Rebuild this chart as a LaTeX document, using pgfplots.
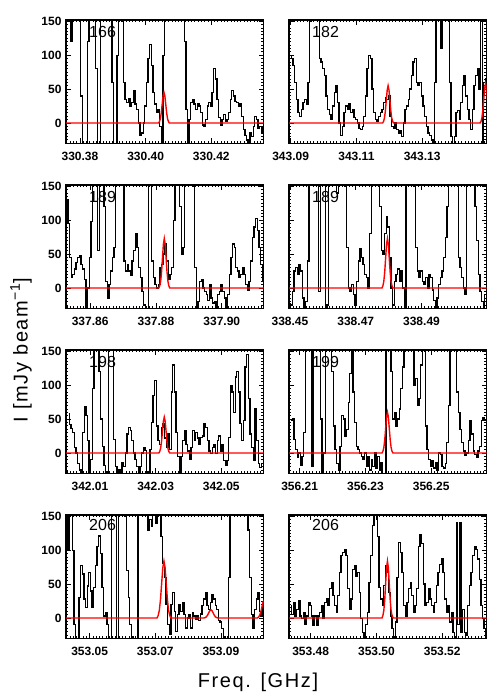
\documentclass[border=0pt]{standalone}
\usepackage{fontspec}
\setmainfont{Liberation Sans}
\usepackage{pgfplots}
\pgfplotsset{compat=1.18}

% x values are frequency minus the panel's whole GHz (kept small for TeX precision);
% the tick labels carry the full frequency.
\pgfplotsset{
  spec/.style={
    scale only axis, width=197.6pt, height=123.3pt, anchor=north west,
    ymin=-30, ymax=152, ytick={0,50,100,150}, minor ytick={-30,-25,...,150},
    scaled x ticks=false,
    tick align=inside, major tick length=5pt, minor tick length=2.2pt,
    axis line style={line width=1.2pt},
    every tick/.style={black, line width=0.8pt},
    tick label style={font=\fontsize{12}{12}\selectfont\bfseries},
    xticklabel style={yshift=-5pt},
    yticklabel style={xshift=-1pt},
    /pgf/number format/assume math mode=true,
  },
  rcol/.style={yticklabel=\empty},
  blk/.style={black, line width=1.3pt, const plot mark mid, no marks},
  fit/.style={red, line width=1.4pt, no marks},
}
\tikzset{lab/.style={font=\fontsize{16}{16}\selectfont}}

\begin{document}
\begin{tikzpicture}[x=1pt,y=1pt]
\path[use as bounding box] (0,0) rectangle (500,700);

% ---- 166
\begin{axis}[spec, at={(66pt,680pt)}, xmin=0.37574, xmax=0.43593,
  xtick={0.38,0.40,0.42}, xticklabels={330.38,330.40,330.42}, minor xtick={0.376,0.377,...,0.436}]
\addplot[blk] coordinates {
(0.3760,250)(0.3765,250)(0.3770,200)(0.3775,120)(0.3780,250)(0.3785,250)(0.3790,250)(0.3795,250)(0.3800,150)(0.3805,40)
(0.3810,-80)(0.3815,-80)(0.3820,-60)(0.3825,120)(0.3830,250)(0.3835,250)(0.3840,250)(0.3845,250)(0.3850,80)(0.3855,-80)
(0.3860,-40)(0.3865,250)(0.3870,250)(0.3875,250)(0.3880,250)(0.3885,250)(0.3890,250)(0.3895,250)(0.3900,60)(0.3905,-80)
(0.3910,-60)(0.3915,100)(0.3920,250)(0.3925,250)(0.3930,150)(0.3935,60)(0.3940,35)(0.3945,30)(0.3950,36)(0.3955,25)
(0.3960,30)(0.3965,48)(0.3970,28)(0.3975,20)(0.3980,0)(0.3985,-18)(0.3990,-15)(0.3995,0)(0.4000,25)(0.4005,60)
(0.4010,95)(0.4015,116)(0.4020,85)(0.4025,45)(0.4030,28)(0.4035,15)(0.4040,20)(0.4045,-5)(0.4050,-30)(0.4055,100)
(0.4060,250)(0.4065,250)(0.4070,250)(0.4075,250)(0.4080,250)(0.4085,250)(0.4090,250)(0.4095,250)(0.4100,250)(0.4105,250)
(0.4110,250)(0.4115,250)(0.4120,120)(0.4125,20)(0.4130,-28)(0.4135,5)(0.4140,30)(0.4145,35)(0.4150,28)(0.4155,20)
(0.4160,28)(0.4165,25)(0.4170,15)(0.4175,-3)(0.4180,-5)(0.4185,5)(0.4190,25)(0.4195,30)(0.4200,25)(0.4205,45)
(0.4210,80)(0.4215,65)(0.4220,35)(0.4225,8)(0.4230,-3)(0.4235,5)(0.4240,12)(0.4245,3)(0.4250,5)(0.4255,15)
(0.4260,35)(0.4265,48)(0.4270,40)(0.4275,32)(0.4280,30)(0.4285,25)(0.4290,28)(0.4295,10)(0.4300,-10)(0.4305,-18)
(0.4310,-25)(0.4315,-28)(0.4320,-15)(0.4325,-20)(0.4330,-5)(0.4335,10)(0.4340,5)(0.4345,-8)(0.4350,-5)(0.4355,-15)
(0.4360,-5)(0.4365,-12)};
\addplot[fit] coordinates {(0.3750,0)(0.40393,0)(0.404205,2.0)(0.40448,6.1)(0.404755,14.6)(0.40503,27.3)(0.405305,39.7)(0.40558,45)
(0.405855,39.7)(0.40613,27.3)(0.406405,14.6)(0.40668,6.1)(0.406955,2.0)(0.40723,0)(0.4370,0)};
\node[lab] at (rel axis cs:0.185,0.905) {166};
\end{axis}

% ---- 182
\begin{axis}[spec, rcol, at={(289pt,680pt)}, xmin=0.0895, xmax=0.1496,
  xtick={0.09,0.11,0.13}, xticklabels={343.09,343.11,343.13}, minor xtick={0.089,0.090,...,0.150}]
\addplot[blk] coordinates {
(0.0900,100)(0.0905,95)(0.0910,85)(0.0915,60)(0.0920,35)(0.0925,15)(0.0930,10)(0.0935,20)(0.0940,30)(0.0945,35)
(0.0950,28)(0.0955,60)(0.0960,150)(0.0965,250)(0.0970,250)(0.0975,250)(0.0980,250)(0.0985,180)(0.0990,95)(0.0995,90)
(0.1000,80)(0.1005,70)(0.1010,40)(0.1015,20)(0.1020,12)(0.1025,5)(0.1030,25)(0.1035,45)(0.1040,55)(0.1045,30)
(0.1050,0)(0.1055,-18)(0.1060,-5)(0.1065,15)(0.1070,25)(0.1075,20)(0.1080,28)(0.1085,15)(0.1090,20)(0.1095,8)
(0.1100,5)(0.1105,0)(0.1110,-8)(0.1115,-10)(0.1120,-5)(0.1125,10)(0.1130,40)(0.1135,80)(0.1140,100)(0.1145,95)
(0.1150,50)(0.1155,15)(0.1160,5)(0.1165,2)(0.1170,10)(0.1175,15)(0.1180,20)(0.1185,30)(0.1190,38)(0.1195,35)
(0.1200,40)(0.1205,10)(0.1210,-5)(0.1215,-8)(0.1220,0)(0.1225,-10)(0.1230,-15)(0.1235,-12)(0.1240,-20)(0.1245,0)
(0.1250,20)(0.1255,25)(0.1260,35)(0.1265,50)(0.1270,70)(0.1275,90)(0.1280,95)(0.1285,60)(0.1290,55)(0.1295,60)
(0.1300,40)(0.1305,25)(0.1310,10)(0.1315,-5)(0.1320,-15)(0.1325,-18)(0.1330,-25)(0.1335,-30)(0.1340,60)(0.1345,250)
(0.1350,250)(0.1355,250)(0.1360,110)(0.1365,250)(0.1370,250)(0.1375,250)(0.1380,200)(0.1385,60)(0.1390,-20)(0.1395,-80)
(0.1400,-20)(0.1405,15)(0.1410,18)(0.1415,5)(0.1420,30)(0.1425,55)(0.1430,70)(0.1435,40)(0.1440,20)(0.1445,5)
(0.1450,-10)(0.1455,20)(0.1460,55)(0.1465,70)(0.1470,80)(0.1475,50)(0.1480,250)(0.1485,-80)(0.1490,60)(0.1495,65)
(0.1500,40)};
\addplot[fit] coordinates {(0.0890,0)(0.11799,0)(0.118265,2.4)(0.11854,7.4)(0.118815,17.9)(0.11909,33.4)(0.119365,48.5)(0.11964,55)
(0.119915,48.5)(0.12019,33.4)(0.120465,17.9)(0.12074,7.4)(0.121015,2.4)(0.12129,0)
(0.14763,0)(0.147905,2.5)(0.14818,7.8)(0.148455,18.8)(0.14873,35.2)(0.149005,51.2)(0.14928,58)(0.149555,51.2)(0.14983,35.2)(0.150105,18.8)};
\node[lab] at (rel axis cs:0.185,0.905) {182};
\end{axis}

% ---- 189 (left)
\begin{axis}[spec, at={(66pt,515pt)}, xmin=0.85268, xmax=0.91269,
  xtick={0.86,0.88,0.90}, xticklabels={337.86,337.88,337.90}, minor xtick={0.852,0.853,...,0.913}]
\addplot[blk] coordinates {
(0.8530,130)(0.8535,95)(0.8540,45)(0.8545,16)(0.8550,20)(0.8555,28)(0.8560,38)(0.8565,45)(0.8570,48)(0.8575,35)
(0.8580,28)(0.8585,12)(0.8590,-28)(0.8595,0)(0.8600,45)(0.8605,98)(0.8610,250)(0.8615,250)(0.8620,250)(0.8625,55)
(0.8630,250)(0.8635,250)(0.8640,250)(0.8645,120)(0.8650,10)(0.8655,-15)(0.8660,5)(0.8665,25)(0.8670,45)(0.8675,60)
(0.8680,250)(0.8685,250)(0.8690,250)(0.8695,250)(0.8700,250)(0.8705,40)(0.8710,25)(0.8715,35)(0.8720,25)(0.8725,18)
(0.8730,40)(0.8735,55)(0.8740,80)(0.8745,60)(0.8750,30)(0.8755,15)(0.8760,-5)(0.8765,-25)(0.8770,-80)(0.8775,-40)
(0.8780,250)(0.8785,250)(0.8790,40)(0.8795,15)(0.8800,5)(0.8805,0)(0.8810,5)(0.8815,30)(0.8820,35)(0.8825,50)
(0.8830,65)(0.8835,40)(0.8840,12)(0.8845,20)(0.8850,30)(0.8855,100)(0.8860,250)(0.8865,250)(0.8870,250)(0.8875,120)
(0.8880,50)(0.8885,60)(0.8890,250)(0.8895,250)(0.8900,250)(0.8905,250)(0.8910,250)(0.8915,150)(0.8920,30)(0.8925,-80)
(0.8930,-20)(0.8935,10)(0.8940,12)(0.8945,0)(0.8950,-5)(0.8955,-10)(0.8960,-18)(0.8965,5)(0.8970,-15)(0.8975,-22)
(0.8980,-20)(0.8985,-28)(0.8990,-10)(0.8995,-5)(0.9000,5)(0.9005,-5)(0.9010,-15)(0.9015,-28)(0.9020,-10)(0.9025,20)
(0.9030,45)(0.9035,65)(0.9040,60)(0.9045,30)(0.9050,25)(0.9055,15)(0.9060,20)(0.9065,30)(0.9070,20)(0.9075,5)
(0.9080,-3)(0.9085,10)(0.9090,40)(0.9095,75)(0.9100,90)(0.9105,103)(0.9110,85)(0.9115,60)(0.9120,35)(0.9125,10)
(0.9130,-5)(0.9135,5)};
\addplot[fit] coordinates {(0.8520,0)(0.88088,0)(0.881155,3.2)(0.88143,9.9)(0.881705,23.7)(0.88198,44.3)(0.882255,64.4)(0.88253,73)
(0.882805,64.4)(0.88308,44.3)(0.883355,23.7)(0.88363,9.9)(0.883905,3.2)(0.88418,0)(0.9140,0)};
\node[lab] at (rel axis cs:0.185,0.905) {189};
\end{axis}

% ---- 189 (right)
\begin{axis}[spec, rcol, at={(289pt,515pt)}, xmin=0.4497, xmax=0.5098,
  xtick={0.45,0.47,0.49}, xticklabels={338.45,338.47,338.49}, minor xtick={0.449,0.450,...,0.510}]
\addplot[blk] coordinates {
(0.4495,-10)(0.4500,-28)(0.4505,-25)(0.4510,-5)(0.4515,25)(0.4520,30)(0.4525,20)(0.4530,35)(0.4535,25)(0.4540,-15)
(0.4545,-28)(0.4550,-20)(0.4555,40)(0.4560,250)(0.4565,250)(0.4570,250)(0.4575,250)(0.4580,250)(0.4585,250)(0.4590,-5)
(0.4595,250)(0.4600,250)(0.4605,250)(0.4610,-80)(0.4615,-25)(0.4620,250)(0.4625,250)(0.4630,250)(0.4635,250)(0.4640,250)
(0.4645,140)(0.4650,250)(0.4655,250)(0.4660,250)(0.4665,250)(0.4670,150)(0.4675,60)(0.4680,0)(0.4685,-5)(0.4690,5)
(0.4695,-10)(0.4700,-25)(0.4705,10)(0.4710,40)(0.4715,58)(0.4720,45)(0.4725,35)(0.4730,20)(0.4735,15)(0.4740,0)
(0.4745,80)(0.4750,250)(0.4755,250)(0.4760,250)(0.4765,250)(0.4770,250)(0.4775,120)(0.4780,55)(0.4785,50)(0.4790,80)
(0.4795,105)(0.4800,90)(0.4805,45)(0.4810,0)(0.4815,-25)(0.4820,10)(0.4825,20)(0.4830,28)(0.4835,10)(0.4840,26)
(0.4845,0)(0.4850,-28)(0.4855,250)(0.4860,250)(0.4865,250)(0.4870,250)(0.4875,250)(0.4880,150)(0.4885,60)(0.4890,25)
(0.4895,15)(0.4900,25)(0.4905,10)(0.4910,5)(0.4915,15)(0.4920,0)(0.4925,20)(0.4930,15)(0.4935,-3)(0.4940,-18)
(0.4945,-28)(0.4950,-15)(0.4955,5)(0.4960,15)(0.4965,25)(0.4970,45)(0.4975,75)(0.4980,120)(0.4985,250)(0.4990,250)
(0.4995,250)(0.5000,250)(0.5005,250)(0.5010,200)(0.5015,45)(0.5020,30)(0.5025,15)(0.5030,0)(0.5035,-10)(0.5040,250)
(0.5045,250)(0.5050,250)(0.5055,250)(0.5060,200)(0.5065,120)(0.5070,70)(0.5075,20)(0.5080,-5)(0.5085,-20)(0.5090,-28)
(0.5095,-10)(0.5100,-28)};
\addplot[fit] coordinates {(0.4490,0)(0.47799,0)(0.478265,3.2)(0.47854,9.9)(0.478815,23.7)(0.47909,44.3)(0.479365,64.4)(0.47964,73)
(0.479915,64.4)(0.48019,44.3)(0.480465,23.7)(0.48074,9.9)(0.481015,3.2)(0.48129,0)(0.5110,0)};
\node[lab] at (rel axis cs:0.185,0.905) {189};
\end{axis}

% ---- 198
\begin{axis}[spec, at={(66pt,350pt)}, xmin=0.0027, xmax=0.0629,
  xtick={0.01,0.03,0.05}, xticklabels={342.01,342.03,342.05}, minor xtick={0.002,0.003,...,0.063}]
\addplot[blk] coordinates {
(0.0035,58)(0.0040,42)(0.0045,36)(0.0050,30)(0.0055,8)(0.0060,0)(0.0065,-16)(0.0070,-25)(0.0075,-28)(0.0080,30)
(0.0085,68)(0.0090,55)(0.0095,18)(0.0100,-80)(0.0105,-10)(0.0110,95)(0.0115,250)(0.0120,250)(0.0125,250)(0.0130,120)
(0.0135,50)(0.0140,10)(0.0145,-18)(0.0150,-28)(0.0155,-80)(0.0160,250)(0.0165,250)(0.0170,200)(0.0175,20)(0.0180,-20)
(0.0185,-30)(0.0190,-25)(0.0195,-28)(0.0200,-15)(0.0205,-20)(0.0210,0)(0.0215,28)(0.0220,38)(0.0225,33)(0.0230,18)
(0.0235,0)(0.0240,-10)(0.0245,-20)(0.0250,-28)(0.0255,-20)(0.0260,0)(0.0265,8)(0.0270,4)(0.0275,-28)(0.0280,-28)
(0.0285,5)(0.0290,45)(0.0295,85)(0.0300,107)(0.0305,40)(0.0310,18)(0.0315,13)(0.0320,38)(0.0325,43)(0.0330,22)
(0.0335,8)(0.0340,28)(0.0345,5)(0.0350,90)(0.0355,130)(0.0360,90)(0.0365,30)(0.0370,-5)(0.0375,-80)(0.0380,-5)
(0.0385,18)(0.0390,33)(0.0395,13)(0.0400,3)(0.0405,-9)(0.0410,8)(0.0415,33)(0.0420,18)(0.0425,30)(0.0430,22)
(0.0435,13)(0.0440,23)(0.0445,25)(0.0450,43)(0.0455,38)(0.0460,18)(0.0465,3)(0.0470,-1)(0.0475,8)(0.0480,13)
(0.0485,-1)(0.0490,18)(0.0495,25)(0.0500,3)(0.0505,13)(0.0510,-11)(0.0515,-19)(0.0520,-11)(0.0525,23)(0.0530,100)
(0.0535,90)(0.0540,60)(0.0545,112)(0.0550,120)(0.0555,90)(0.0560,43)(0.0565,18)(0.0570,48)(0.0575,127)(0.0580,145)
(0.0585,80)(0.0590,28)(0.0595,8)(0.0600,-11)(0.0605,65)(0.0610,18)(0.0615,-16)(0.0620,-21)(0.0625,-16)};
\addplot[fit] coordinates {(0.0020,0)(0.03099,0)(0.031265,2.3)(0.03154,7.2)(0.031815,17.2)(0.03209,32.1)(0.032365,46.8)(0.03264,53)
(0.032915,46.8)(0.03319,32.1)(0.033465,17.2)(0.03374,7.2)(0.034015,2.3)(0.03429,0)(0.0640,0)};
\node[lab] at (rel axis cs:0.185,0.905) {198};
\end{axis}

% ---- 199
\begin{axis}[spec, rcol, at={(289pt,350pt)}, xmin=0.20676, xmax=0.26684,
  xtick={0.21,0.23,0.25}, xticklabels={356.21,356.23,356.25}, minor xtick={0.206,0.207,...,0.267}]
\addplot[blk] coordinates {
(0.2075,48)(0.2080,50)(0.2085,20)(0.2090,5)(0.2095,-6)(0.2100,0)(0.2105,-19)(0.2110,-5)(0.2115,30)(0.2120,250)
(0.2125,250)(0.2130,250)(0.2135,250)(0.2140,-20)(0.2145,250)(0.2150,250)(0.2155,250)(0.2160,250)(0.2165,50)(0.2170,-80)
(0.2175,0)(0.2180,250)(0.2185,250)(0.2190,250)(0.2195,250)(0.2200,120)(0.2205,40)(0.2210,5)(0.2215,-16)(0.2220,-26)
(0.2225,10)(0.2230,55)(0.2235,50)(0.2240,25)(0.2245,35)(0.2250,75)(0.2255,117)(0.2260,250)(0.2265,90)(0.2270,45)
(0.2275,10)(0.2280,5)(0.2285,0)(0.2290,-5)(0.2295,-10)(0.2300,0)(0.2305,-20)(0.2310,-5)(0.2315,-25)(0.2320,-10)
(0.2325,-20)(0.2330,0)(0.2335,-22)(0.2340,-5)(0.2345,-26)(0.2350,-15)(0.2355,-80)(0.2360,-80)(0.2365,250)(0.2370,250)
(0.2375,250)(0.2380,120)(0.2385,50)(0.2390,60)(0.2395,40)(0.2400,50)(0.2405,65)(0.2410,95)(0.2415,127)(0.2420,250)
(0.2425,250)(0.2430,250)(0.2435,250)(0.2440,250)(0.2445,250)(0.2450,100)(0.2455,110)(0.2460,70)(0.2465,80)(0.2470,130)
(0.2475,250)(0.2480,250)(0.2485,40)(0.2490,5)(0.2495,-10)(0.2500,-20)(0.2505,-12)(0.2510,-22)(0.2515,-15)(0.2520,-26)
(0.2525,0)(0.2530,-2)(0.2535,-20)(0.2540,-22)(0.2545,-16)(0.2550,15)(0.2555,70)(0.2560,250)(0.2565,250)(0.2570,250)
(0.2575,250)(0.2580,90)(0.2585,60)(0.2590,35)(0.2595,15)(0.2600,3)(0.2605,-4)(0.2610,0)(0.2615,18)(0.2620,48)
(0.2625,28)(0.2630,3)(0.2635,-2)(0.2640,-6)(0.2645,3)(0.2650,10)(0.2655,48)(0.2660,52)(0.2665,48)(0.2670,-20)};
\addplot[fit] coordinates {(0.2060,0)(0.23505,0)(0.235325,2.6)(0.2356,8.1)(0.235875,19.5)(0.23615,36.4)(0.236425,53.0)(0.2367,60)
(0.236975,53.0)(0.23725,36.4)(0.237525,19.5)(0.2378,8.1)(0.238075,2.6)(0.23835,0)(0.2680,0)};
\node[lab] at (rel axis cs:0.185,0.905) {199};
\end{axis}

% ---- 206 (left)
\begin{axis}[spec, at={(66pt,185pt)}, xmin=0.0428, xmax=0.1030,
  xtick={0.05,0.07,0.09}, xticklabels={353.05,353.07,353.09}, minor xtick={0.042,0.043,...,0.103}]
\addplot[blk] coordinates {
(0.0430,250)(0.0435,100)(0.0440,250)(0.0445,250)(0.0450,100)(0.0455,-10)(0.0460,-80)(0.0465,-80)(0.0470,30)(0.0475,77)
(0.0480,65)(0.0485,28)(0.0490,15)(0.0495,47)(0.0500,67)(0.0505,40)(0.0510,15)(0.0515,45)(0.0520,77)(0.0525,106)
(0.0530,121)(0.0535,95)(0.0540,45)(0.0545,3)(0.0550,8)(0.0555,-10)(0.0560,-30)(0.0565,-80)(0.0570,250)(0.0575,250)
(0.0580,250)(0.0585,-80)(0.0590,250)(0.0595,250)(0.0600,250)(0.0605,250)(0.0610,150)(0.0615,70)(0.0620,30)(0.0625,-10)
(0.0630,-28)(0.0635,-80)(0.0640,-60)(0.0645,-30)(0.0650,250)(0.0655,250)(0.0660,250)(0.0665,250)(0.0670,250)(0.0675,250)
(0.0680,130)(0.0685,145)(0.0690,135)(0.0695,250)(0.0700,250)(0.0705,140)(0.0710,250)(0.0715,250)(0.0720,120)(0.0725,80)
(0.0730,60)(0.0735,20)(0.0740,-10)(0.0745,-24)(0.0750,20)(0.0755,38)(0.0760,10)(0.0765,-20)(0.0770,5)(0.0775,20)
(0.0780,10)(0.0785,23)(0.0790,5)(0.0795,-15)(0.0800,0)(0.0805,5)(0.0810,-15)(0.0815,8)(0.0820,3)(0.0825,-2)
(0.0830,3)(0.0835,-4)(0.0840,6)(0.0845,18)(0.0850,28)(0.0855,38)(0.0860,18)(0.0865,13)(0.0870,23)(0.0875,35)
(0.0880,28)(0.0885,18)(0.0890,13)(0.0895,-4)(0.0900,-6)(0.0905,-16)(0.0910,-28)(0.0915,-30)(0.0920,-80)(0.0925,60)
(0.0930,250)(0.0935,250)(0.0940,250)(0.0945,250)(0.0950,250)(0.0955,250)(0.0960,250)(0.0965,250)(0.0970,250)(0.0975,250)
(0.0980,250)(0.0985,130)(0.0990,60)(0.0995,5)(0.1000,-16)(0.1005,13)(0.1010,28)(0.1015,38)(0.1020,10)(0.1025,3)
(0.1030,18)(0.1035,15)};
\addplot[fit] coordinates {(0.0420,0)(0.07054,0)(0.07089,3.7)(0.07124,11.4)(0.07159,27.3)(0.07194,50.9)(0.07229,74.1)(0.07264,84)
(0.07299,74.1)(0.07334,50.9)(0.07369,27.3)(0.07404,11.4)(0.07439,3.7)(0.07474,0)
(0.08485,0)(0.0852,0.5)(0.08555,1.6)(0.0859,3.9)(0.08625,7.3)(0.0866,10.6)(0.08695,12)(0.0873,10.6)(0.08765,7.3)(0.088,3.9)(0.08835,1.6)(0.0887,0.5)(0.08905,0)
(0.1011,0)(0.10145,1.2)(0.1018,3.7)(0.10215,8.8)(0.1025,16.4)(0.10285,23.8)(0.1032,27)(0.10355,23.8)};
\node[lab] at (rel axis cs:0.185,0.915) {206};
\end{axis}

% ---- 206 (right)
\begin{axis}[spec, rcol, at={(289pt,185pt)}, xmin=0.47341, xmax=0.5335,
  xtick={0.48,0.50,0.52}, xticklabels={353.48,353.50,353.52}, minor xtick={0.473,0.474,...,0.534}]
\addplot[blk] coordinates {
(0.4740,18)(0.4745,5)(0.4750,23)(0.4755,3)(0.4760,13)(0.4765,25)(0.4770,3)(0.4775,-1)(0.4780,8)(0.4785,-9)
(0.4790,3)(0.4795,23)(0.4800,18)(0.4805,3)(0.4810,-11)(0.4815,3)(0.4820,-11)(0.4825,3)(0.4830,8)(0.4835,18)
(0.4840,-1)(0.4845,23)(0.4850,28)(0.4855,18)(0.4860,43)(0.4865,52)(0.4870,33)(0.4875,18)(0.4880,8)(0.4885,33)
(0.4890,67)(0.4895,92)(0.4900,97)(0.4905,101)(0.4910,92)(0.4915,43)(0.4920,13)(0.4925,28)(0.4930,72)(0.4935,77)
(0.4940,62)(0.4945,67)(0.4950,38)(0.4955,-1)(0.4960,-21)(0.4965,-30)(0.4970,-10)(0.4975,8)(0.4980,52)(0.4985,92)
(0.4990,136)(0.4995,250)(0.5000,250)(0.5005,120)(0.5010,45)(0.5015,28)(0.5020,18)(0.5025,48)(0.5030,77)(0.5035,67)
(0.5040,38)(0.5045,3)(0.5050,-16)(0.5055,-28)(0.5060,-6)(0.5065,60)(0.5070,111)(0.5075,97)(0.5080,67)(0.5085,18)
(0.5090,3)(0.5095,23)(0.5100,43)(0.5105,52)(0.5110,33)(0.5115,8)(0.5120,18)(0.5125,43)(0.5130,105)(0.5135,123)
(0.5140,110)(0.5145,50)(0.5150,18)(0.5155,23)(0.5160,43)(0.5165,28)(0.5170,18)(0.5175,8)(0.5180,23)(0.5185,48)
(0.5190,67)(0.5195,79)(0.5200,87)(0.5205,67)(0.5210,28)(0.5215,8)(0.5220,18)(0.5225,-6)(0.5230,8)(0.5235,-21)
(0.5240,-28)(0.5245,140)(0.5250,-10)(0.5255,140)(0.5260,-21)(0.5265,13)(0.5270,-21)(0.5275,-26)(0.5280,18)(0.5285,48)
(0.5290,67)(0.5295,92)(0.5300,106)(0.5305,101)(0.5310,87)(0.5315,57)(0.5320,18)(0.5325,-1)(0.5330,-16)(0.5335,-26)
(0.5340,-20)};
\addplot[fit] coordinates {(0.4730,0)(0.5017,0)(0.501975,3.7)(0.50225,11.4)(0.502525,27.3)(0.5028,50.9)(0.503075,74.1)(0.50335,84)
(0.503625,74.1)(0.5039,50.9)(0.504175,27.3)(0.50445,11.4)(0.504725,3.7)(0.50505,0)(0.5345,0)};
\node[lab] at (rel axis cs:0.185,0.915) {206};
\end{axis}

\node[rotate=90, font=\fontsize{20}{20}\selectfont\addfontfeature{LetterSpace=8}] at (21,350) {I [mJy beam\textsuperscript{−1}]};
\node[font=\fontsize{20}{20}\selectfont\addfontfeature{LetterSpace=8}] at (258,18) {Freq. [GHz]};
\end{tikzpicture}
\end{document}
